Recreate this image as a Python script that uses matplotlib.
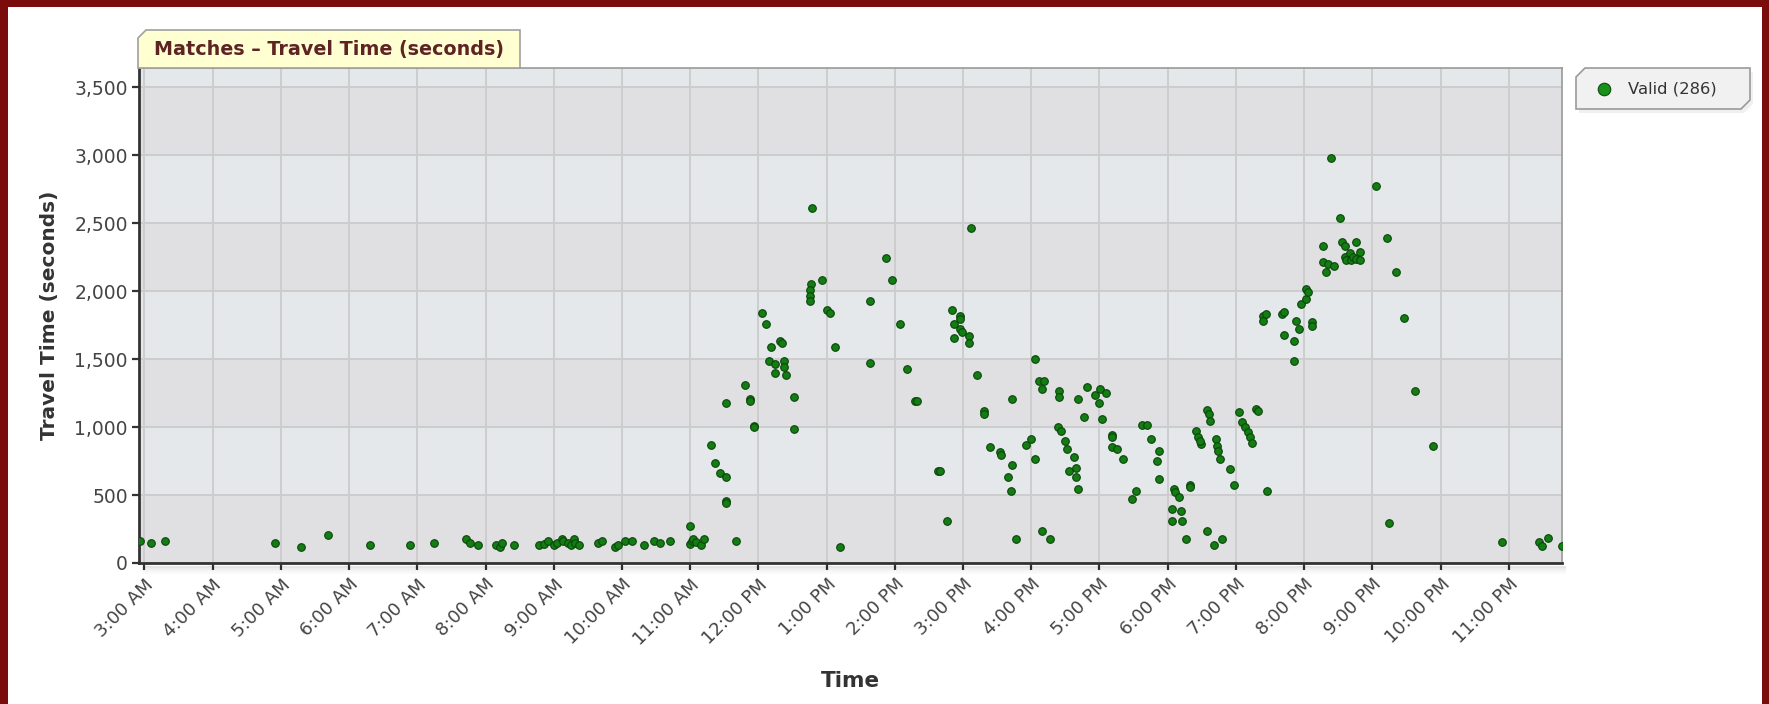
import matplotlib.pyplot as plt
from matplotlib.patches import Polygon, Rectangle
from matplotlib.lines import Line2D

# time of day in hours (3 = 3:00 AM, 15 = 3:00 PM) and travel time in seconds
hours = [
    2.93, 3.10, 3.30, 4.92, 5.30, 5.69, 6.30, 6.89, 7.24, 7.71, 7.77, 7.89,
    8.16, 8.21, 8.24, 8.42, 8.79, 8.86, 8.92, 9.00, 9.05, 9.12, 9.14, 9.21,
    9.25, 9.29, 9.31, 9.37, 9.65, 9.71, 9.90, 9.94, 10.04, 10.15, 10.33, 10.47,
    10.56, 10.71, 10.99, 11.00, 11.02, 11.04, 11.09, 11.16, 11.20,
    11.31, 11.37, 11.43, 11.52, 11.52, 11.52, 11.52, 11.67, 11.81, 11.87, 11.87,
    11.93, 11.93, 12.05, 12.11, 12.19, 12.16, 12.24, 12.25, 12.31, 12.35, 12.37,
    12.37, 12.40, 12.52, 12.52, 12.78, 12.77, 12.76, 12.75, 12.76, 12.93, 13.00,
    13.05, 13.13, 13.19, 13.63, 13.63, 13.87, 13.96, 14.07, 14.18,
    14.30, 14.33, 14.63, 14.66, 14.76, 14.84, 14.87, 14.87, 14.95, 14.96, 14.96,
    14.98, 15.08, 15.08, 15.12, 15.20, 15.31, 15.31, 15.40, 15.54, 15.55, 15.72,
    15.72, 15.66, 15.70, 15.78, 15.93, 15.99, 16.05, 16.05, 16.12, 16.18, 16.16,
    16.16, 16.28, 16.40, 16.40, 16.39, 16.43, 16.49, 16.52, 16.63, 16.55, 16.66,
    16.66, 16.69, 16.69, 16.78, 16.81, 16.93, 16.99, 17.01, 17.10, 17.04, 17.19,
    17.19, 17.19, 17.25, 17.34, 17.48, 17.54, 17.63, 17.69, 17.75, 17.87, 17.84,
    17.87,
    18.06, 18.19, 18.06, 18.21, 18.09, 18.11, 18.16, 18.27, 18.32, 18.33, 18.42,
    18.45, 18.49, 18.47, 18.57, 18.58, 18.60, 18.62, 18.71, 18.72, 18.73, 18.77,
    18.68, 18.80, 18.92, 18.97, 19.05, 19.09, 19.13, 19.17, 19.20, 19.23, 19.30,
    19.33, 19.46, 19.40, 19.44, 19.40, 19.67, 19.70, 19.70, 19.85, 19.85, 19.88,
    19.92, 19.96, 20.03, 20.03, 20.06, 20.11, 20.11, 20.28, 20.28, 20.32, 20.35,
    20.39, 20.44, 20.52, 20.55, 20.60, 20.76, 20.60, 20.62, 20.67, 20.69, 20.71,
    20.76, 20.82, 20.82, 21.05, 21.22, 21.25, 21.34, 21.46, 21.63, 21.89,
    22.90, 23.45, 23.48, 23.57, 23.78,
]
travel_seconds = [
    160, 149, 163, 149, 120, 207, 134, 134, 149, 178, 149, 134,
    134, 120, 149, 134, 134, 139, 163, 134, 149, 178, 163, 149,
    134, 178, 149, 134, 149, 163, 120, 134, 163, 163, 134, 163,
    149, 163, 269, 139, 160, 176, 151, 134, 180,
    870, 738, 664, 635, 458, 443, 1179, 163, 1312, 1206, 1194,
    1010, 998, 1842, 1754, 1592, 1489, 1464, 1400, 1636, 1621, 1489,
    1440, 1386, 1224, 988, 2608, 2048, 2004, 1967, 1930, 2078, 1862,
    1842, 1592, 119, 1930, 1474, 2240, 2078, 1754, 1427,
    1194, 1194, 679, 679, 310, 1857, 1754, 1651, 1813, 1793, 1722,
    1700, 1670, 1621, 2461, 1386, 1116, 1096, 855, 814, 797, 1209,
    723, 635, 531, 178, 870, 914, 1501, 767, 1341, 1341, 1283,
    237, 178, 1263, 1219, 998, 973, 900, 841, 782, 679, 698,
    635, 546, 1209, 1076, 1297, 1238, 1179, 1283, 1253, 1062, 944,
    929, 855, 841, 767, 472, 531, 1017, 1017, 914, 826, 752,
    620,
    396, 384, 310, 310, 544, 519, 482, 178, 576, 556, 973,
    924, 875, 900, 237, 1125, 1096, 1047, 912, 863, 826, 765,
    134, 173, 693, 576, 1108, 1035, 998, 961, 924, 885, 1135,
    1120, 531, 1813, 1832, 1783, 1832, 1845, 1680, 1636, 1489, 1783,
    1724, 1901, 1943, 2016, 1992, 1771, 1746, 2328, 2213, 2137, 2200,
    2978, 2181, 2534, 2358, 2333, 2358, 2250, 2225, 2279, 2225, 2250,
    2237, 2286, 2225, 2770, 2387, 296, 2137, 1798, 1268, 858,
    152, 152, 123, 182, 123,
]

tick_hours = list(range(3, 24))
tick_labels = ['3:00 AM', '4:00 AM', '5:00 AM', '6:00 AM', '7:00 AM', '8:00 AM',
               '9:00 AM', '10:00 AM', '11:00 AM', '12:00 PM', '1:00 PM', '2:00 PM',
               '3:00 PM', '4:00 PM', '5:00 PM', '6:00 PM', '7:00 PM', '8:00 PM',
               '9:00 PM', '10:00 PM', '11:00 PM']
y_ticks = [0, 500, 1000, 1500, 2000, 2500, 3000, 3500]
y_labels = ['0', '500', '1,000', '1,500', '2,000', '2,500', '3,000', '3,500']

W, H = 1769, 704
fig = plt.figure(figsize=(W / 100, H / 100), dpi=100)
fig.patch.set_facecolor('white')

def fx(x):
    return x / W

def fy(y):
    return 1 - y / H

# dark red frame around the picture
for x0, y0, w, h in [(0, 0, 8, H), (0, 0, W, 7), (W - 7, 0, 7, H)]:
    fig.add_artist(Rectangle((fx(x0), fy(y0 + h)), w / W, h / H,
                             transform=fig.transFigure, color='#7b0c0c', lw=0))

left, right, top, bottom = 139, 1562, 68, 563
ax = fig.add_axes([fx(left), fy(bottom), (right - left) / W, (bottom - top) / H])
ax.set_xlim(2.92, 23.78)
ax.set_ylim(0, 3640)

# alternating horizontal bands
band_colors = ['#e0e0e2', '#e5e8eb']
for i in range(8):
    ax.axhspan(i * 500, (i + 1) * 500, color=band_colors[i % 2], lw=0, zorder=0.2)

ax.set_axisbelow(True)
ax.grid(True, color='#cdcdcd', lw=1.4)

ax.scatter(hours, travel_seconds, s=30, c='#137d13', edgecolors='#0a450a',
           linewidths=0.8, zorder=3)

ax.set_xticks(tick_hours)
ax.set_xticklabels(tick_labels, rotation=45, ha='right', rotation_mode='anchor')
ax.set_yticks(y_ticks)
ax.set_yticklabels(y_labels)
ax.tick_params(axis='both', labelcolor='#444444', color='#333333',
               length=5, width=1.6, direction='out')
ax.tick_params(axis='x', labelsize=13, pad=4)
ax.tick_params(axis='y', labelsize=13.5, pad=3)

for side in ['left', 'bottom']:
    ax.spines[side].set_color('#333333')
    ax.spines[side].set_linewidth(2)
for side in ['top', 'right']:
    ax.spines[side].set_color('#999999')
    ax.spines[side].set_linewidth(1.2)

ax.set_xlabel('Time', fontsize=15.5, fontweight='bold', color='#333333', labelpad=16)
ax.set_ylabel('Travel Time (seconds)', fontsize=14.5, fontweight='bold',
              color='#333333', labelpad=11)

# soft shadow under the x axis
for k, a in enumerate([0.10, 0.07, 0.04, 0.02]):
    fig.add_artist(Rectangle((fx(left + 4), fy(bottom + 3 + 2 * (k + 1))), (right - left) / W, 2 / H,
                             transform=fig.transFigure, color='black', alpha=a, lw=0))

# title tab
tab = [(138, 68), (138, 38), (146, 30), (520, 30), (520, 68)]
fig.add_artist(Polygon([(fx(x), fy(y)) for x, y in tab], closed=True,
                       transform=fig.transFigure, facecolor='#ffffd2',
                       edgecolor='#a0a0a0', lw=1.2))
fig.text(fx(329), fy(50), 'Matches \u2013 Travel Time (seconds)', fontsize=13.8,
         fontweight='bold', color='#5e2424', ha='center', va='center')

# legend box
leg = [(1576, 77), (1585, 68), (1750, 68), (1750, 100), (1741, 109), (1576, 109)]
shadow = [(x + 3, y + 4) for x, y in leg]
fig.add_artist(Polygon([(fx(x), fy(y)) for x, y in shadow], closed=True,
                       transform=fig.transFigure, facecolor='#000000', alpha=0.06, lw=0))
fig.add_artist(Polygon([(fx(x), fy(y)) for x, y in leg], closed=True,
                       transform=fig.transFigure, facecolor='#f1f1f1',
                       edgecolor='#9a9a9a', lw=1.2))
fig.add_artist(Line2D([fx(1604)], [fy(89)], transform=fig.transFigure, marker='o',
                      markersize=9, markerfacecolor='#1a8f1a', markeredgecolor='#0b4d0b',
                      markeredgewidth=0.8, lw=0))
fig.text(fx(1628), fy(89), 'Valid (286)', fontsize=11.8, color='#333333',
         ha='left', va='center')

fig.savefig('out.png', dpi=100)
